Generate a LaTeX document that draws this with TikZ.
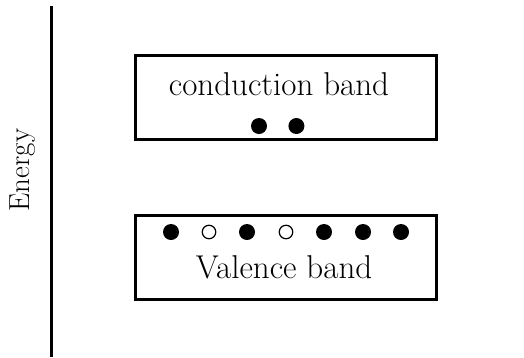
\documentclass[tikz,border=0pt]{standalone}
\usepackage{tikz}
\usetikzlibrary{positioning}
\tikzset{
  banda/.style={rectangle, draw=black, line width=3pt, minimum width=301pt,
    minimum height=84pt, inner sep=0pt},
  etiqueta/.style={font=\fontsize{33}{38}\selectfont, inner sep=0pt},
  electron/.style={circle, fill=black, minimum size=16pt, inner sep=0pt},
  hueco/.style={circle, draw=black, line width=1.2pt, fill=white,
    minimum size=13.5pt, inner sep=0pt},
  eje/.style={line width=3pt}
}
\begin{document}
\begin{tikzpicture}[x=1pt, y=-1pt]
  \useasboundingbox (0,0) rectangle (524,357);
  % eje de energia
  \coordinate (ejearriba) at (51,6);
  \coordinate (ejeabajo) at (51,357);
  \draw[eje] (ejearriba) -- (ejeabajo);
  \node[etiqueta, font=\fontsize{29}{34}\selectfont, rotate=90] (energia) at (23,170) {Energy};
  % bandas
  \node[banda] (bc) at (286,97.5) {};
  \node[banda] (bv) at (286,257) {};
  \node[etiqueta] (tbc) at (279,84) {conduction band};
  \node[etiqueta] (tbv) at (284,267) {Valence band};
  % electrones en la banda de conduccion
  \node[electron] (c1) at (259,126) {};
  \node[electron, right=21pt of c1] (c2) {};
  % electrones y huecos en la banda de valencia
  \node[electron] (v1) at (171,232) {};
  \node[hueco] (v2) at (209,232) {};
  \node[electron] (v3) at (247,232) {};
  \node[hueco] (v4) at (286,232) {};
  \node[electron] (v5) at (324,232) {};
  \node[electron] (v6) at (363,232) {};
  \node[electron] (v7) at (401,232) {};
\end{tikzpicture}
\end{document}
